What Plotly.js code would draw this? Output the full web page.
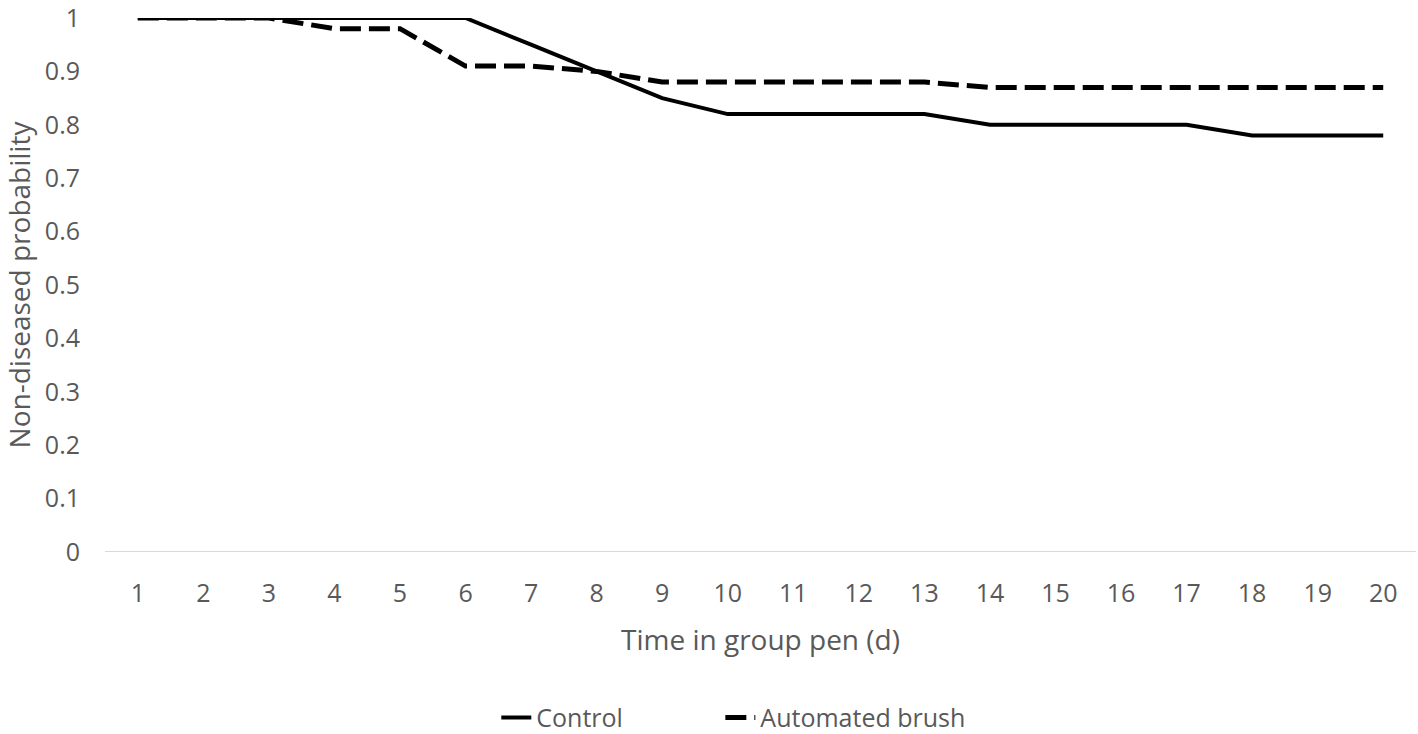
<!DOCTYPE html>
<html>
<head>
<meta charset="utf-8">
<script src="https://cdn.plot.ly/plotly-3.0.1.min.js"></script>
<style>html,body{margin:0;padding:0;background:#fff;}#chart{width:1418px;height:734px;}</style>
</head>
<body>
<div id="chart"></div>
<script>
const days = [1,2,3,4,5,6,7,8,9,10,11,12,13,14,15,16,17,18,19,20];
const control = [1,1,1,1,1,1,0.95,0.90,0.85,0.82,0.82,0.82,0.82,0.80,0.80,0.80,0.80,0.78,0.78,0.78];
const brush = [1,1,1,0.98,0.98,0.91,0.91,0.90,0.88,0.88,0.88,0.88,0.88,0.87,0.87,0.87,0.87,0.87,0.87,0.87];
const yTicks = [0,0.1,0.2,0.3,0.4,0.5,0.6,0.7,0.8,0.9,1];
const yTickText = ['0','0.1','0.2','0.3','0.4','0.5','0.6','0.7','0.8','0.9','1'];

const font = 'Open Sans, Noto Sans, sans-serif';
const grey = '#595959';

const traces = [
  {x: days, y: control, name: 'Control', type: 'scatter', mode: 'lines',
   line: {color: '#000', width: 4}, legend: 'legend'},
  {x: days, y: brush, name: 'Automated brush', type: 'scatter', mode: 'lines',
   line: {color: '#000', width: 5, dash: '21px,8px'}, legend: 'legend2'}
];

const legendBase = {orientation: 'h', xref: 'container', yref: 'container',
  xanchor: 'left', y: 0.022, yanchor: 'middle',
  font: {family: font, size: 25, color: grey}, itemwidth: 30};

const layout = {
  width: 1418, height: 734,
  margin: {l: 105, r: 2, t: 18, b: 182, autoexpand: false},
  paper_bgcolor: '#fff', plot_bgcolor: '#fff',
  font: {family: font, color: grey, size: 22},
  showlegend: true,
  legend: Object.assign({}, legendBase, {x: 0.35}),
  legend2: Object.assign({}, legendBase, {x: 0.508}),
  xaxis: {
    range: [0.5, 20.5], tickmode: 'array', tickvals: days, ticktext: days.map(String),
    showgrid: false, zeroline: false, showline: false, ticks: '',
    tickfont: {family: font, size: 25, color: grey},
    ticklabelstandoff: 24, ticklabeloverflow: 'allow',
    title: {text: 'Time in group pen (d)', font: {family: font, size: 28, color: grey}, standoff: 22}
  },
  yaxis: {
    range: [0, 1], tickmode: 'array', tickvals: yTicks, ticktext: yTickText,
    showgrid: false, zeroline: false, showline: false, ticks: '',
    tickfont: {family: font, size: 25, color: grey},
    ticklabelstandoff: 24, ticklabeloverflow: 'allow',
    title: {text: 'Non-diseased probability', font: {family: font, size: 28, color: grey}, standoff: 8}
  },
  shapes: [
    {type: 'line', xref: 'paper', yref: 'y', x0: 0, x1: 1, y0: 0, y1: 0,
     line: {color: '#d9d9d9', width: 2}, layer: 'below'}
  ]
};

Plotly.newPlot('chart', traces, layout, {displayModeBar: false, staticPlot: true});
</script>
</body>
</html>
